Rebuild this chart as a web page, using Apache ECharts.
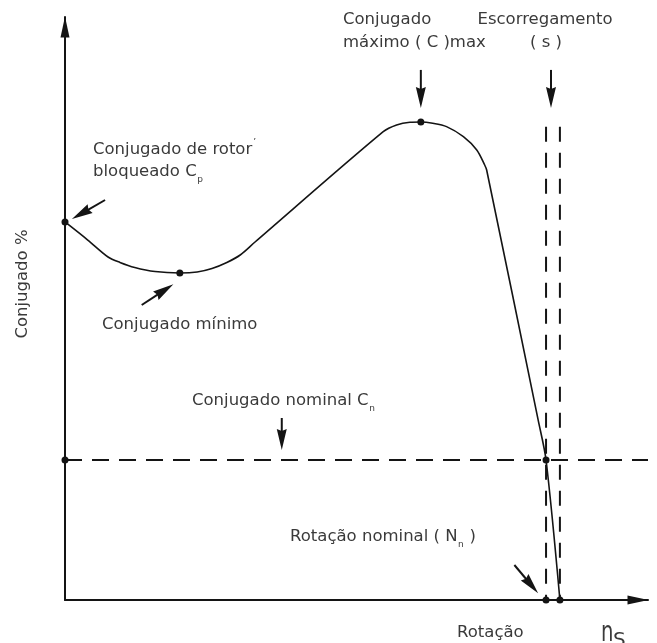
<!DOCTYPE html>
<html>
<head>
<meta charset="utf-8">
<title>Conjugado x Rotação</title>
<script src="https://cdn.jsdelivr.net/npm/echarts@6.0.0/dist/echarts.min.js"></script>
<style>
  html, body { margin: 0; padding: 0; background: #ffffff; }
  #chart { width: 657px; height: 643px; }
</style>
</head>
<body>
<div id="chart"></div>
<script>
// Torque–speed curve of an induction motor.
// Speed in % of synchronous speed (n_s = 100), torque in % of nominal torque (C_n = 100).
const speedPct  = [0, 4.6, 8.7, 11.1, 14.1, 18.2, 23.2, 26.7, 29.7, 32.7, 35.4, 38.4,
                   64.3, 67.0, 69.7, 71.9, 74.3, 77.1, 80.5, 83.2, 84.8, 85.2, 95.6, 97.2, 100];
const torquePct = [270, 257.1, 245, 241.1, 237.5, 234.6, 233.6, 234.3, 236.8, 241.1, 246.4, 255.7,
                   334.5, 339.3, 341.2, 341.4, 340.5, 338.1, 330.9, 321.4, 310.7, 307.1, 128.6, 100, 0];

// Characteristic points
const lockedRotor   = [0, 270];       // C_p
const minTorque     = [23.2, 233.6];  // C_min
const maxTorque     = [71.9, 341.4];  // C_max
const nominalPoint  = [97.2, 100];    // (N_n, C_n)
const nominalSpeed  = 97.2;           // N_n
const syncSpeed     = 100;            // n_s
const nominalTorque = 100;            // C_n

// Axis extents
const X_MAX = 117.8;
const Y_MAX = 416.4;
const SLIP_LINE_TOP = 338;

// Annotation arrows: [tail, tip]
const arrowRotor   = [[8.1, 285.7], [1.4, 272.1]];
const arrowMin     = [[15.5, 210.7], [21.9, 225.5]];
const arrowMax     = [[71.9, 378.6], [71.9, 351.4]];
const arrowSlip    = [[98.2, 378.6], [98.2, 351.4]];
const arrowNominal = [[43.8, 130], [43.8, 107.1]];
const arrowSpeed   = [[90.8, 25], [95.6, 4.8]];

const INK = '#141414';
const TEXT_COLOR = '#3a3a3a';
const FONT = '"DejaVu Sans", sans-serif';

const measureCtx = document.createElement('canvas').getContext('2d');
function measure(str, size) {
  measureCtx.font = size + 'px ' + FONT;
  return measureCtx.measureText(str).width;
}
// text placed by its baseline
function txt(str, x, baseline, size, align) {
  return {
    type: 'text', x: x, y: baseline - 0.346 * size, silent: true,
    style: { text: str, fontSize: size, fontFamily: FONT, fill: TEXT_COLOR,
             align: align || 'left', verticalAlign: 'middle' }
  };
}
// text followed by a lowered small index and optional trailing text
function withSub(main, sub, tail, x, baseline, size, drop) {
  const subSize = 9;
  const w = measure(main, size);
  const ws = measure(sub, subSize);
  const els = [txt(main, x, baseline, size), txt(sub, x + w + 0.5, baseline + (drop || 6), subSize)];
  if (tail) els.push(txt(tail, x + w + ws + 1, baseline, size));
  return els;
}

const FS = 16.5;
const labels = [].concat(
  [txt('Conjugado de rotor', 93, 155, FS), txt('\u2019', 93 + measure('Conjugado de rotor', FS) + 1, 146, 9)],
  withSub('bloqueado C', 'p', null, 93, 177, FS),
  [txt('Conjugado', 343, 25, FS), txt('máximo ( C )max', 343, 48, FS)],
  [txt('Escorregamento', 545, 25, FS, 'center'), txt('( s )', 546, 48, FS, 'center')],
  [txt('Conjugado mínimo', 102, 330, FS)],
  withSub('Conjugado nominal C', 'n', null, 192, 406, FS),
  withSub('Rotação nominal ( N', 'n', ' )', 290, 542, FS),
  [txt('Rotação', 457, 638, FS)],
  [{ type: 'text', x: 601, y: 643 - 0.346 * 28, scaleX: 0.7, silent: true,
     style: { text: 'n', fontSize: 28, fontFamily: FONT, fill: TEXT_COLOR, align: 'left', verticalAlign: 'middle' } },
   { type: 'text', x: 613, y: 648 - 0.346 * 20, silent: true,
     style: { text: 'S', fontSize: 20, fontFamily: FONT, fill: TEXT_COLOR, align: 'left', verticalAlign: 'middle' } }],
  [{ type: 'text', x: 23, y: 284, rotation: Math.PI / 2, silent: true,
     style: { text: 'Conjugado %', fontSize: FS, fontFamily: FONT, fill: TEXT_COLOR, align: 'center', verticalAlign: 'middle' } }]
);

const axisCommon = {
  type: 'value',
  axisTick: { show: false },
  axisLabel: { show: false },
  splitLine: { show: false },
  axisLine: {
    show: true,
    symbol: ['none', 'triangle'],
    symbolSize: [9, 21],
    symbolOffset: [0, -10],
    lineStyle: { color: INK, width: 2 }
  }
};

// Draws each annotation as a stem with a long narrow filled head at the tip
function renderArrow(params, api) {
  const p0 = api.coord([api.value(0), api.value(1)]);
  const p1 = api.coord([api.value(2), api.value(3)]);
  const dx = p1[0] - p0[0], dy = p1[1] - p0[1];
  const len = Math.hypot(dx, dy) || 1;
  const ux = dx / len, uy = dy / len, nx = -uy, ny = ux;
  const headLen = 21, halfW = 5;
  const bx = p1[0] - ux * headLen, by = p1[1] - uy * headLen;
  return {
    type: 'group',
    children: [
      { type: 'line', shape: { x1: p0[0], y1: p0[1], x2: bx + ux * 3, y2: by + uy * 3 },
        style: { stroke: INK, lineWidth: 2 } },
      { type: 'polygon',
        shape: { points: [[p1[0], p1[1]], [bx + nx * halfW, by + ny * halfW], [bx + ux * 2, by + uy * 2], [bx - nx * halfW, by - ny * halfW]] },
        style: { fill: INK } }
    ]
  };
}

const annotationArrows = [arrowRotor, arrowMin, arrowMax, arrowSlip, arrowNominal, arrowSpeed];

const chart = echarts.init(document.getElementById('chart'), null, { renderer: 'canvas' });
chart.setOption({
  animation: false,
  backgroundColor: '#ffffff',
  grid: { left: 65, right: 9, top: 17, bottom: 43 },
  xAxis: Object.assign({ min: 0, max: X_MAX }, axisCommon),
  yAxis: Object.assign({ min: 0, max: Y_MAX }, axisCommon),
  graphic: labels,
  series: [
    {
      type: 'line', name: 'Conjugado', clip: false, silent: true,
      data: speedPct.map((s, i) => [s, torquePct[i]]),
      smooth: 0.3, showSymbol: false,
      lineStyle: { color: INK, width: 1.6 }, z: 4
    },
    {
      type: 'line', clip: false, silent: true, showSymbol: false,
      data: [[0, nominalTorque], [X_MAX, nominalTorque]],
      lineStyle: { color: INK, width: 2, type: [17, 10] }, z: 3
    },
    {
      type: 'line', clip: false, silent: true, showSymbol: false,
      data: [[nominalSpeed, SLIP_LINE_TOP], [nominalSpeed, 0]],
      lineStyle: { color: INK, width: 2, type: [15, 11] }, z: 3
    },
    {
      type: 'line', clip: false, silent: true, showSymbol: false,
      data: [[syncSpeed, SLIP_LINE_TOP], [syncSpeed, 0]],
      lineStyle: { color: INK, width: 2, type: [15, 11] }, z: 3
    },
    {
      type: 'scatter', silent: true, clip: false,
      symbolSize: 7, itemStyle: { color: INK, opacity: 1 },
      data: [lockedRotor, minTorque, maxTorque, nominalPoint,
             [0, nominalTorque], [nominalSpeed, 0], [syncSpeed, 0]],
      z: 6
    },
    {
      type: 'custom', coordinateSystem: 'cartesian2d', silent: true, clip: false,
      data: annotationArrows.map(a => [a[0][0], a[0][1], a[1][0], a[1][1]]),
      encode: { x: [0, 2], y: [1, 3] },
      renderItem: renderArrow,
      z: 5
    }
  ]
});
</script>
</body>
</html>
